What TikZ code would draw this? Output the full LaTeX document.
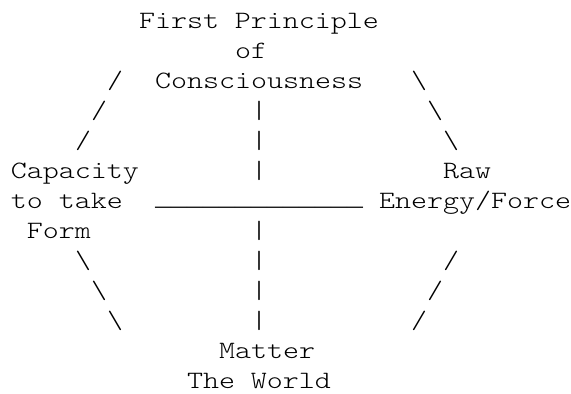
\documentclass[tikz,border=0pt]{standalone}
\usepackage{fontspec}
\usepackage{tikz}
\newfontfamily\asciifont[FakeStretch=1.2223]{lmmonolt10-regular.otf}
\newfontfamily\rulefont{Liberation Mono}

\begin{document}
\begin{tikzpicture}[
  x=12pt, y=-22.5pt,
  font=\asciifont\fontsize{18.7pt}{22.5pt}\selectfont,
  txt/.style={anchor=base west, inner sep=0pt, outer sep=0pt},
  glyph/.style={txt}
]
  \useasboundingbox (-0.6875,-0.9333) rectangle (35,12.1667);

  \node[txt] (first)  at (8,0)  {First Principle};
  \node[txt] (of)     at (14,1) {of};
  \node[txt] (consc)  at (9,2)  {Consciousness};

  \node[txt] (cap)    at (0,5)  {Capacity};
  \node[txt] (take)   at (0,6)  {to take};
  \node[txt] (form)   at (1,7)  {Form};

  \node[txt] (raw)    at (27,5) {Raw};
  \node[txt] (energy) at (23,6) {Energy/Force};

  \node[txt] (matter) at (13,11) {Matter};
  \node[txt] (world)  at (11,12) {The World};

  \node[txt, font=\rulefont\fontsize{20pt}{22.5pt}\selectfont, yshift=2pt]
    (rule) at (9,6) {\_\_\_\_\_\_\_\_\_\_\_\_\_};

  \foreach \r in {3,4,5,7,8,9,10}
    \node[glyph] (bar\r) at (15,\r) {|};

  \foreach \c/\r [count=\i] in {6/2,5/3,4/4}
    \node[glyph] (ul\i) at (\c,\r) {/};
  \foreach \c/\r [count=\i] in {25/2,26/3,27/4}
    \node[glyph] (ur\i) at (\c,\r) {\textbackslash};
  \foreach \c/\r [count=\i] in {4/8,5/9,6/10}
    \node[glyph] (ll\i) at (\c,\r) {\textbackslash};
  \foreach \c/\r [count=\i] in {27/8,26/9,25/10}
    \node[glyph] (lr\i) at (\c,\r) {/};
\end{tikzpicture}
\end{document}
